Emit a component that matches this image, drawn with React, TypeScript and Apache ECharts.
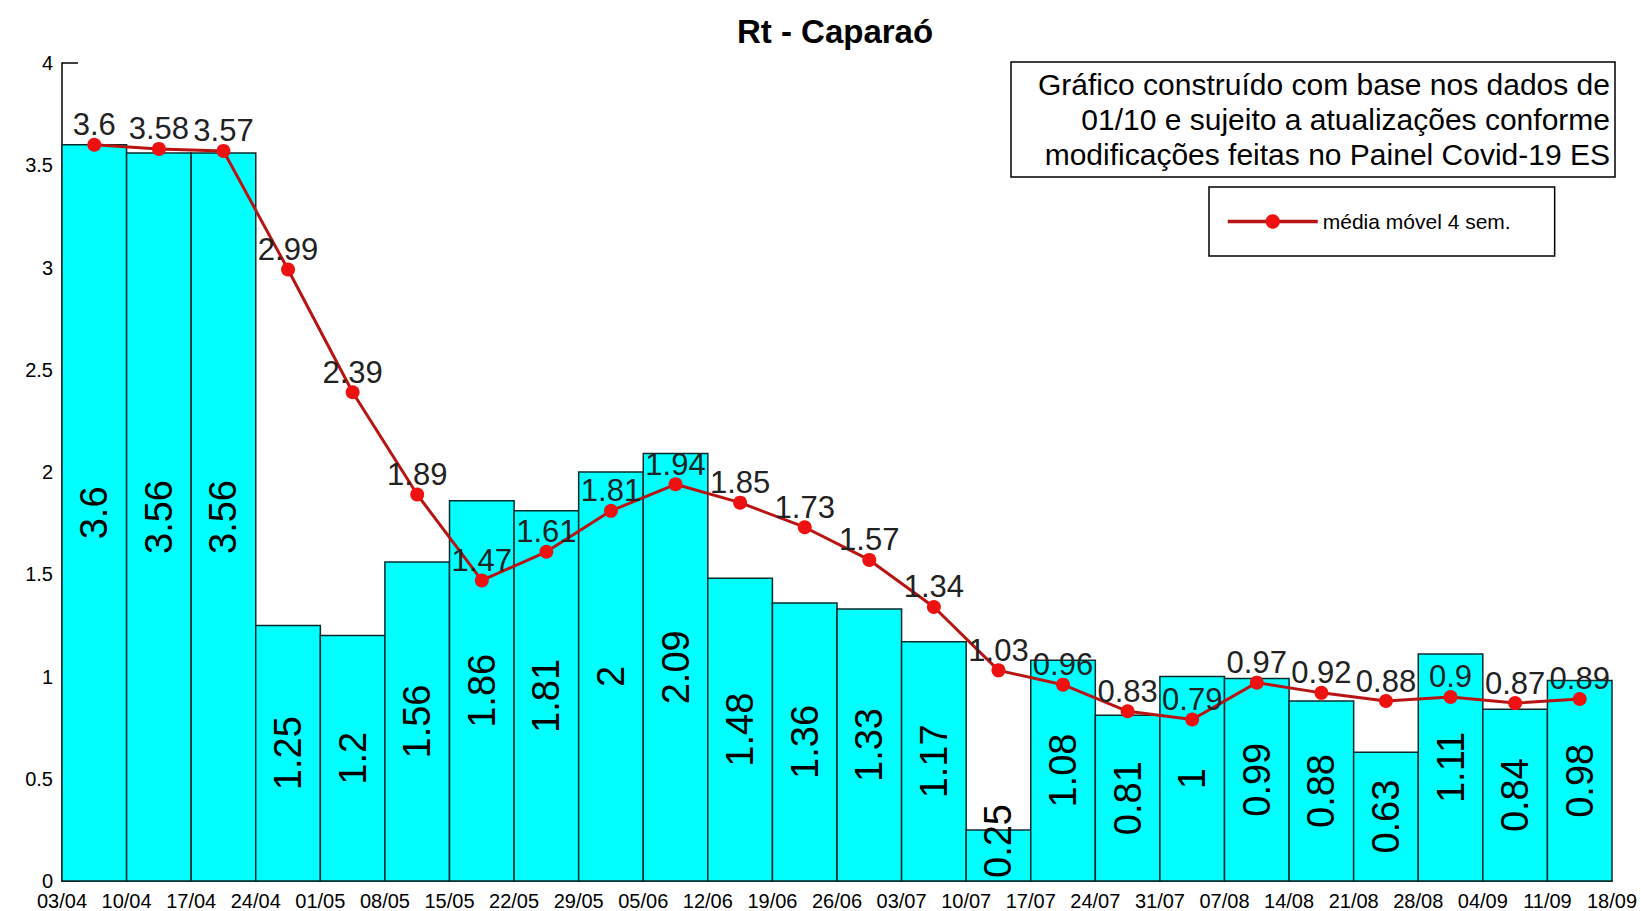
import React, { useEffect, useRef } from "react";
import * as echarts from "echarts";

const dates = [
  "03/04", "10/04", "17/04", "24/04", "01/05", "08/05", "15/05", "22/05", "29/05",
  "05/06", "12/06", "19/06", "26/06", "03/07", "10/07", "17/07", "24/07", "31/07",
  "07/08", "14/08", "21/08", "28/08", "04/09", "11/09", "18/09",
];
const rtValues = [
  3.6, 3.56, 3.56, 1.25, 1.2, 1.56, 1.86, 1.81, 2, 2.09, 1.48, 1.36, 1.33, 1.17,
  0.25, 1.08, 0.81, 1, 0.99, 0.88, 0.63, 1.11, 0.84, 0.98,
];
const movingAvg = [
  3.6, 3.58, 3.57, 2.99, 2.39, 1.89, 1.47, 1.61, 1.81, 1.94, 1.85, 1.73, 1.57,
  1.34, 1.03, 0.96, 0.83, 0.79, 0.97, 0.92, 0.88, 0.9, 0.87, 0.89,
];
const titleText = "Rt - Caparaó";
const noteLines = [
  "Gráfico construído com base nos dados de",
  "01/10 e sujeito a atualizações conforme",
  "modificações feitas no Painel Covid-19 ES",
];
const lineName = "média móvel 4 sem.";

const FONT = 'Arial, "Liberation Sans", sans-serif';

export default function App() {
  const ref = useRef<HTMLDivElement>(null);
  useEffect(() => {
    document.body.style.margin = "0";
    if (!ref.current) return;
    const chart = echarts.init(ref.current, undefined, { renderer: "svg" });
    const barData = rtValues.map((v, i) => [i, v]);
    const lineData = movingAvg.map((v, i) => [i + 0.5, v]);
    chart.setOption({
      animation: false,
      backgroundColor: "#ffffff",
      grid: { left: 62, right: 29, top: 63, bottom: 30, containLabel: false },
      xAxis: {
        type: "value",
        min: 0,
        max: 24,
        interval: 1,
        axisLine: { show: true, lineStyle: { color: "#000", width: 1.5 } },
        axisTick: { show: false },
        splitLine: { show: false },
        axisLabel: {
          formatter: (v: number) => dates[Math.round(v)] ?? "",
          color: "#000",
          fontFamily: FONT,
          fontSize: 20,
          lineHeight: 19,
          margin: 10,
          showMinLabel: true,
          showMaxLabel: true,
        },
      },
      yAxis: {
        type: "value",
        min: 0,
        max: 4,
        interval: 0.5,
        axisLine: { show: true, lineStyle: { color: "#000", width: 1.5 } },
        axisTick: { show: true, inside: true, length: 16, lineStyle: { color: "#000", width: 1.5 } },
        splitLine: { show: false },
        axisLabel: { color: "#000", fontFamily: FONT, fontSize: 20, lineHeight: 16, margin: 9 },
      },
      legend: {
        show: true,
        data: [lineName],
        left: 1209,
        top: 187,
        orient: "horizontal",
        backgroundColor: "#fff",
        borderColor: "#000",
        borderWidth: 1.5,
        padding: [24, 44, 24, 17],
        itemWidth: 90,
        itemHeight: 18,
        itemGap: 0,
        lineStyle: { width: 3.5 },
        textStyle: { color: "#000", fontFamily: FONT, fontSize: 21 },
      },
      series: [
        {
          type: "custom",
          name: "Rt",
          data: barData,
          z: 2,
          renderItem: (params: any, api: any) => {
            const i = api.value(0);
            const v = api.value(1);
            const p0 = api.coord([i, 0]);
            const p1 = api.coord([i + 1, v]);
            const mid = (p0[1] + p1[1]) / 2;
            const cy = Math.min(mid, p0[1] - 40);
            return {
              type: "group",
              children: [
                {
                  type: "rect",
                  shape: { x: p0[0], y: p1[1], width: p1[0] - p0[0], height: p0[1] - p1[1] },
                  style: { fill: "#00ffff", stroke: "#0a2a2a", lineWidth: 1.5 },
                },
                {
                  type: "text",
                  x: (p0[0] + p1[0]) / 2,
                  y: cy,
                  rotation: Math.PI / 2,
                  style: {
                    text: String(v),
                    fill: "#000",
                    font: `38px ${FONT}`,
                    align: "center",
                    verticalAlign: "middle",
                  },
                },
              ],
            };
          },
        },
        {
          type: "line",
          name: lineName,
          data: lineData,
          z: 5,
          symbol: "circle",
          symbolSize: 14,
          lineStyle: { color: "#b81414", width: 3 },
          itemStyle: { color: "#ee1111" },
          label: {
            show: true,
            position: "inside",
            offset: [0, -20],
            color: "#222",
            fontFamily: FONT,
            fontSize: 31,
            formatter: (p: any) => String(p.value[1]),
          },
        },
      ],
      graphic: [
        {
          type: "text",
          x: 835,
          y: 31,
          style: {
            text: titleText,
            fill: "#000",
            font: `bold 33px ${FONT}`,
            align: "center",
            verticalAlign: "middle",
          },
        },
        {
          type: "rect",
          shape: { x: 1011, y: 62, width: 604, height: 115 },
          style: { fill: "#fff", stroke: "#000", lineWidth: 1.5 },
          z: 10,
        },
        ...noteLines.map((t, k) => ({
          type: "text",
          x: 1610,
          y: 84 + k * 35,
          z: 11,
          style: {
            text: t,
            fill: "#000",
            font: `30px ${FONT}`,
            align: "right",
            verticalAlign: "middle",
          },
        })),
      ],
    });
    return () => chart.dispose();
  }, []);
  return <div ref={ref} style={{ width: 1641, height: 911 }} />;
}
